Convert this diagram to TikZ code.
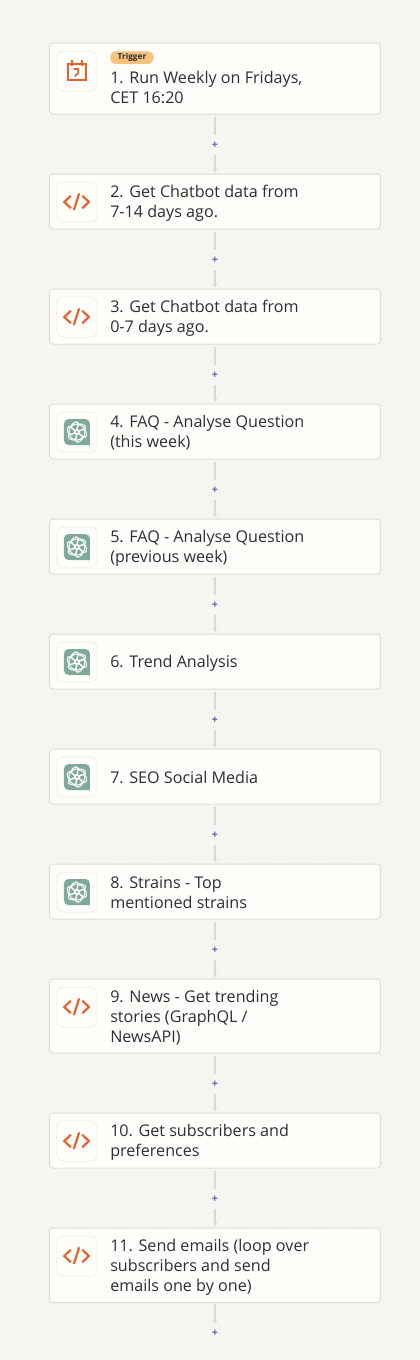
\documentclass[tikz,border=0pt]{standalone}
\usepackage{fontspec}
\setmainfont{Open Sans}
\usepackage{xcolor}
\usetikzlibrary{arrows.meta, positioning, patterns.meta}
\definecolor{canvasGrey}{HTML}{F6F5F2}
\definecolor{dotGrey}{HTML}{EBE9E5}
\definecolor{cardFill}{HTML}{FFFEFB}
\definecolor{cardEdge}{HTML}{DEDCD6}
\definecolor{iconEdge}{HTML}{F3F1EC}
\definecolor{linkGrey}{HTML}{D9D8D6}
\definecolor{plusBlue}{HTML}{5C5CA8}
\definecolor{textDark}{HTML}{2D2E2E}
\definecolor{codeOrange}{HTML}{E8602C}
\definecolor{gptGreen}{HTML}{7FA99B}
\definecolor{tagOrange}{HTML}{F6C27C}
\tikzset{
  stepbox/.style={draw=cardEdge, fill=cardFill, line width=.75pt, rounded corners=2.5pt,
                  minimum width=248.25pt, minimum height=41.25pt, inner sep=0pt, outer sep=0pt},
  iconbox/.style={draw=iconEdge, fill=cardFill, line width=.75pt, rounded corners=4.5pt,
                  minimum size=30pt, inner sep=0pt, outer sep=0pt},
  steplabel/.style={text=textDark, font=\fontsize{12.1}{15}\selectfont, align=left, inner sep=0pt, yshift=-1.1pt},
  triggertag/.style={fill=tagOrange, rounded corners=4.5pt, text=textDark, inner sep=0pt,
                     minimum width=32.5pt, minimum height=9.5pt, font=\fontsize{6.2}{7}\selectfont\bfseries},
  plusnode/.style={text=plusBlue, minimum size=14pt, inner sep=0pt, font=\fontsize{8}{8}\selectfont\bfseries},
  link/.style={draw=linkGrey, line width=1.2pt, shorten <=2.5pt},
  linkarrow/.style={draw=linkGrey, line width=1.2pt, -{Latex[length=3pt,width=3.5pt]}, shorten >=1pt},
  pics/codeglyph/.style={code={
    \draw[codeOrange, line width=1.6pt] (-4.5pt,4.7pt) -- (-9.5pt,0pt) -- (-4.5pt,-4.7pt);
    \draw[codeOrange, line width=1.6pt] (1.7pt,6.5pt) -- (-2.3pt,-6pt);
    \draw[codeOrange, line width=1.6pt] (4pt,4.7pt) -- (9pt,0pt) -- (4pt,-4.7pt);
  }},
  pics/calendarglyph/.style={code={
    \draw[codeOrange, line width=1.5pt] (-7pt,5pt) rectangle (7pt,-7pt);
    \draw[codeOrange, line width=1.5pt] (-3.5pt,8pt) -- (-3.5pt,3.5pt) (3.5pt,8pt) -- (3.5pt,3.5pt);
    \draw[codeOrange, line width=1.3pt] (-2.5pt,1.5pt) -- (1pt,1.5pt) -- (1pt,-1.5pt) -- (-1.5pt,-4pt);
  }},
  pics/gptglyph/.style={code={
    \fill[gptGreen, rounded corners=3.5pt] (-9.75pt,-9.75pt) -- (-9.75pt,9.75pt) -- (9.75pt,9.75pt) -- (9.75pt,-9.25pt) [sharp corners] -- (9.75pt,-9.75pt) [rounded corners=3.5pt] -- cycle;
    \foreach \turn in {0,60,...,300}
      \draw[white, line width=.8pt, rotate=\turn] (1.2pt,3.6pt) ellipse (5.3pt and 2.5pt);
  }},
}
\begin{document}
\begin{tikzpicture}
  \useasboundingbox (0pt,0pt) rectangle (315pt,-1020pt);
  \fill[canvasGrey] (0pt,0pt) rectangle (315pt,-1020pt);
  \fill[pattern={Dots[radius=.35pt,distance=5pt]}, pattern color=dotGrey] (0pt,0pt) rectangle (315pt,-1020pt);

  % steps
  \node[stepbox, minimum height=53.25pt, anchor=north west] (step1) at (37.1pt,-32.25pt) {};
  \node[stepbox, below=45pt of step1] (step2) {};
  \node[stepbox, below=45pt of step2] (step3) {};
  \node[stepbox, below=45pt of step3] (step4) {};
  \node[stepbox, below=45pt of step4] (step5) {};
  \node[stepbox, below=45pt of step5] (step6) {};
  \node[stepbox, below=45pt of step6] (step7) {};
  \node[stepbox, below=45pt of step7] (step8) {};
  \node[stepbox, minimum height=55.5pt, below=45pt of step8] (step9) {};
  \node[stepbox, below=45pt of step9] (step10) {};
  \node[stepbox, minimum height=56pt, below=45pt of step10] (step11) {};

  % connectors
  \foreach \a/\b in {1/2,2/3,3/4,4/5,5/6,6/7,7/8,8/9,9/10,10/11}{
    \node[plusnode, below=16pt of step\a.south] (plus\a) {+};
    \draw[link] (step\a) -- (plus\a);
    \draw[linkarrow] (plus\a) -- (step\b);
  }
  \node[plusnode, below=16pt of step11.south] (plus11) {+};
  \draw[linkarrow, shorten <=1pt, shorten >=0pt] (step11) -- (plus11);

  % icons
  \foreach \n in {1,...,11}
    \node[iconbox, below right=6pt and 5.6pt of step\n.north west] (icon\n) {};
  \pic at (icon1) {calendarglyph};
  \foreach \n in {2,3,9,10,11}
    \pic at (icon\n) {codeglyph};
  \foreach \n in {4,5,6,7,8}
    \pic at (icon\n) {gptglyph};

  % labels
  \node[triggertag, below right=6pt and 45.4pt of step1.north west] (tag1) {Trigger};
  \node[steplabel, below right=4pt and 0pt of tag1.south west] (text1) {1. Run Weekly on Fridays,\\CET 16:20};
  \node[steplabel, right=45.4pt of step2.west] (text2) {2. Get Chatbot data from\\7-14 days ago.};
  \node[steplabel, right=45.4pt of step3.west] (text3) {3. Get Chatbot data from\\0-7 days ago.};
  \node[steplabel, right=45.4pt of step4.west] (text4) {4. FAQ - Analyse Question\\(this week)};
  \node[steplabel, right=45.4pt of step5.west] (text5) {5. FAQ - Analyse Question\\(previous week)};
  \node[steplabel, right=45.4pt of step6.west] (text6) {6. Trend Analysis};
  \node[steplabel, right=45.4pt of step7.west] (text7) {7. SEO Social Media};
  \node[steplabel, right=45.4pt of step8.west] (text8) {8. Strains - Top\\mentioned strains};
  \node[steplabel, right=45.4pt of step9.west] (text9) {9. News - Get trending\\stories (GraphQL /\\NewsAPI)};
  \node[steplabel, right=45.4pt of step10.west] (text10) {10. Get subscribers and\\preferences};
  \node[steplabel, right=45.4pt of step11.west] (text11) {11. Send emails (loop over\\subscribers and send\\emails one by one)};
\end{tikzpicture}
\end{document}
